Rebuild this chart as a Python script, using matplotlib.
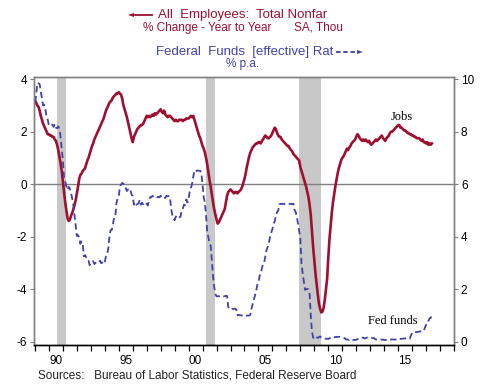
import numpy as np
import matplotlib.pyplot as plt
# nonfarm payrolls vs fed funds, 1989 - mid 2017

start_year = 1989

# all employees: total nonfarm, % change year to year (monthly, Jan 1989 on)
jobs = [
    3.2, 3.1, 3.0, 2.95, 2.8, 2.6, 2.45, 2.3, 2.2, 2.1, 2.0, 1.9,
    1.9, 1.85, 1.85, 1.8, 1.8, 1.7, 1.65, 1.5, 1.3, 1.05, 0.8, 0.5,
    0.1, -0.3, -0.7, -1.0, -1.3, -1.4, -1.35, -1.2, -1.1, -0.95, -0.8, -0.6,
    -0.35, -0.1, 0.2, 0.35, 0.4, 0.5, 0.55, 0.6, 0.75, 0.9, 1.0, 1.15,
    1.3, 1.45, 1.55, 1.7, 1.8, 1.9, 2.0, 2.1, 2.2, 2.3, 2.4, 2.5,
    2.65, 2.8, 2.9, 3.0, 3.1, 3.15, 3.2, 3.3, 3.35, 3.4, 3.45, 3.45,
    3.5, 3.45, 3.4, 3.25, 3.0, 2.85, 2.7, 2.55, 2.35, 2.15, 1.95, 1.75,
    1.6, 1.8, 1.9, 2.0, 2.1, 2.15, 2.2, 2.25, 2.25, 2.3, 2.4, 2.5,
    2.6, 2.55, 2.6, 2.55, 2.6, 2.65, 2.6, 2.7, 2.65, 2.7, 2.75, 2.8,
    2.85, 2.75, 2.7, 2.8, 2.65, 2.6, 2.55, 2.6, 2.6, 2.55, 2.5, 2.45,
    2.4, 2.45, 2.4, 2.4, 2.45, 2.45, 2.45, 2.4, 2.45, 2.45, 2.5, 2.5,
    2.5, 2.55, 2.6, 2.55, 2.6, 2.45, 2.3, 2.15, 2.0, 1.85, 1.75, 1.6,
    1.45, 1.35, 1.2, 1.0, 0.75, 0.45, 0.15, -0.1, -0.4, -0.7, -0.95, -1.15,
    -1.35, -1.5, -1.45, -1.35, -1.25, -1.15, -1.05, -0.95, -0.7, -0.45, -0.3, -0.25,
    -0.2, -0.25, -0.3, -0.35, -0.3, -0.3, -0.35, -0.3, -0.25, -0.2, -0.1, 0.05,
    0.2, 0.4, 0.65, 0.85, 1.05, 1.2, 1.3, 1.4, 1.45, 1.5, 1.55, 1.55,
    1.6, 1.6, 1.55, 1.65, 1.7, 1.8, 1.85, 1.8, 1.75, 1.75, 1.8, 1.85,
    1.95, 2.05, 2.15, 2.1, 1.95, 1.85, 1.8, 1.8, 1.7, 1.65, 1.6, 1.55,
    1.5, 1.45, 1.45, 1.35, 1.3, 1.25, 1.15, 1.1, 1.05, 1.0, 0.95, 0.9,
    0.65, 0.5, 0.35, 0.2, 0.05, -0.1, -0.3, -0.5, -0.8, -1.2, -1.8, -2.4,
    -2.9, -3.4, -3.8, -4.2, -4.55, -4.75, -4.88, -4.85, -4.7, -4.4, -4.0, -3.6,
    -2.8, -2.1, -1.6, -1.1, -0.7, -0.4, -0.1, 0.15, 0.4, 0.6, 0.75, 0.9,
    1.0, 1.05, 1.15, 1.25, 1.35, 1.3, 1.4, 1.45, 1.55, 1.6, 1.65, 1.7,
    1.8, 1.9, 1.85, 1.75, 1.7, 1.65, 1.7, 1.65, 1.7, 1.65, 1.6, 1.65,
    1.55, 1.5, 1.55, 1.6, 1.65, 1.7, 1.65, 1.7, 1.75, 1.8, 1.85, 1.75,
    1.7, 1.65, 1.75, 1.8, 1.85, 1.95, 2.0, 2.0, 2.05, 2.1, 2.15, 2.2,
    2.25, 2.25, 2.15, 2.15, 2.1, 2.05, 2.05, 2.0, 1.95, 1.95, 1.9, 1.9,
    1.85, 1.85, 1.8, 1.8, 1.75, 1.75, 1.75, 1.7, 1.65, 1.7, 1.6, 1.6,
    1.55, 1.6, 1.5, 1.55, 1.5, 1.55,
]

# federal funds [effective] rate, % p.a. (monthly, Jan 1989 on)
fed_funds = [
    9.12, 9.36, 9.85, 9.84, 9.81, 9.53, 9.24, 8.99, 9.02, 8.84, 8.55, 8.45,
    8.23, 8.24, 8.28, 8.26, 8.18, 8.29, 8.15, 8.13, 8.20, 8.11, 7.81, 7.31,
    6.91, 6.25, 6.12, 5.91, 5.78, 5.90, 5.82, 5.66, 5.45, 5.21, 4.81, 4.43,
    4.03, 4.06, 3.98, 3.73, 3.82, 3.76, 3.25, 3.30, 3.22, 3.10, 3.09, 2.92,
    3.02, 3.03, 3.07, 2.96, 3.00, 3.04, 3.06, 3.03, 3.09, 2.99, 3.02, 2.96,
    3.05, 3.25, 3.34, 3.56, 4.01, 4.25, 4.26, 4.47, 4.73, 4.76, 5.29, 5.45,
    5.53, 5.92, 5.98, 6.05, 6.01, 6.00, 5.85, 5.74, 5.80, 5.76, 5.80, 5.60,
    5.56, 5.22, 5.31, 5.22, 5.24, 5.27, 5.40, 5.22, 5.30, 5.24, 5.31, 5.29,
    5.25, 5.19, 5.39, 5.51, 5.50, 5.56, 5.52, 5.54, 5.54, 5.50, 5.52, 5.50,
    5.56, 5.51, 5.49, 5.45, 5.49, 5.56, 5.54, 5.55, 5.51, 5.07, 4.83, 4.68,
    4.63, 4.76, 4.81, 4.74, 4.74, 4.76, 4.99, 5.07, 5.22, 5.20, 5.42, 5.30,
    5.45, 5.73, 5.85, 6.02, 6.27, 6.53, 6.54, 6.50, 6.52, 6.51, 6.51, 6.40,
    5.98, 5.49, 5.31, 4.80, 4.21, 3.97, 3.77, 3.65, 3.07, 2.49, 2.09, 1.82,
    1.73, 1.74, 1.73, 1.75, 1.75, 1.75, 1.73, 1.74, 1.75, 1.75, 1.34, 1.24,
    1.24, 1.26, 1.25, 1.26, 1.26, 1.22, 1.01, 1.03, 1.01, 1.01, 1.00, 0.98,
    1.00, 1.01, 1.00, 1.00, 1.00, 1.03, 1.26, 1.43, 1.61, 1.76, 1.93, 2.16,
    2.28, 2.50, 2.63, 2.79, 3.00, 3.04, 3.26, 3.50, 3.62, 3.78, 4.00, 4.16,
    4.29, 4.49, 4.59, 4.79, 4.94, 4.99, 5.24, 5.25, 5.25, 5.25, 5.25, 5.24,
    5.25, 5.26, 5.26, 5.25, 5.25, 5.25, 5.26, 5.02, 4.94, 4.76, 4.49, 4.24,
    3.94, 2.98, 2.61, 2.28, 1.98, 2.00, 2.01, 2.00, 1.81, 0.97, 0.39, 0.16,
    0.15, 0.22, 0.18, 0.15, 0.18, 0.21, 0.16, 0.16, 0.15, 0.12, 0.12, 0.12,
    0.11, 0.13, 0.16, 0.20, 0.20, 0.18, 0.18, 0.19, 0.19, 0.19, 0.19, 0.18,
    0.17, 0.16, 0.14, 0.10, 0.09, 0.09, 0.07, 0.10, 0.08, 0.07, 0.08, 0.07,
    0.08, 0.10, 0.13, 0.14, 0.16, 0.16, 0.16, 0.13, 0.14, 0.16, 0.16, 0.16,
    0.14, 0.15, 0.14, 0.15, 0.11, 0.09, 0.09, 0.08, 0.08, 0.09, 0.08, 0.09,
    0.07, 0.07, 0.08, 0.09, 0.09, 0.10, 0.09, 0.09, 0.09, 0.09, 0.09, 0.12,
    0.11, 0.11, 0.11, 0.12, 0.12, 0.13, 0.13, 0.14, 0.14, 0.12, 0.12, 0.24,
    0.34, 0.38, 0.36, 0.37, 0.37, 0.38, 0.39, 0.40, 0.40, 0.40, 0.41, 0.54,
    0.65, 0.66, 0.79, 0.90, 0.91, 1.04,
]

# NBER recessions (start, end) in decimal years
recessions = [(1990.58, 1991.25), (2001.25, 2001.92), (2007.92, 2009.5)]

left_ticks = [4, 2, 0, -2, -4, -6]
right_ticks = [10, 8, 6, 4, 2, 0]
year_labels = ['90', '95', '00', '05', '10', '15']
label_years = [1990, 1995, 2000, 2005, 2010, 2015]

red = '#9e0f30'
blue = '#4242a8'
grey = '#808080'

t_jobs = start_year + np.arange(len(jobs)) / 12.0
t_ff = start_year + np.arange(len(fed_funds)) / 12.0

fig = plt.figure(figsize=(4.84, 3.87), dpi=100)
ax = fig.add_axes([0.0702, 0.1085, 0.8678, 0.6933])
ax2 = ax.twinx()

for r0, r1 in recessions:
    ax.axvspan(r0, r1, color='#c8c8c8', lw=0, zorder=0)
ax.axhline(0, color=grey, lw=1.0, zorder=1)

ax.plot(t_jobs, jobs, color=red, lw=1.9, zorder=3)
ax2.plot(t_ff, fed_funds, color=blue, lw=1.3, dashes=(3.5, 2.0))

ax.set_xlim(1988.93, 2019.0)
ax.set_ylim(-6.12, 4.09)
ax2.set_ylim(-6.12 + 6, 4.09 + 6)

ax.set_yticks(left_ticks)
ax.set_yticklabels([str(v) for v in left_ticks])
ax2.set_yticks(right_ticks)
ax2.set_yticklabels([str(v) for v in right_ticks])

ax.set_xticks([y + 0.5 for y in label_years])
ax.set_xticklabels(year_labels)
ax.set_xticks(np.arange(1989, 2020), minor=True)
ax.tick_params(axis='x', which='major', length=0, pad=7, labelsize=8.5)
ax.tick_params(axis='x', which='minor', length=4, width=0.9, color='black', direction='out')
ax.tick_params(axis='y', length=3, color=grey, labelsize=8.5, pad=2)
ax2.tick_params(axis='y', length=3, color=grey, labelsize=8.5, pad=2)

for a in (ax, ax2):
    for side in ('left', 'right', 'top'):
        a.spines[side].set_color(grey)
        a.spines[side].set_linewidth(1.0)
    a.spines['bottom'].set_color('black')
    a.spines['bottom'].set_linewidth(1.0)
    for lbl in a.get_yticklabels() + a.get_xticklabels():
        lbl.set_fontfamily('Liberation Sans')

ax.text(2015.25, 2.55, 'Jobs', family='Liberation Serif', fontsize=9, ha='center', va='center')
ax2.text(2014.6, 0.8, 'Fed funds', family='Liberation Serif', fontsize=9, ha='center', va='center')

# header texts
fig.text(158 / 484, 1 - 15 / 387, 'All  Employees:  Total Nonfar', color=red, fontsize=9.5,
         family='Liberation Sans', ha='left', va='center')
fig.text(143 / 484, 1 - 28 / 387, '% Change - Year to Year       SA, Thou', color=red, fontsize=8.5,
         family='Liberation Sans', ha='left', va='center')
fig.text(156 / 484, 1 - 52 / 387, 'Federal  Funds  [effective] Rat', color=blue, fontsize=9.5,
         family='Liberation Sans', ha='left', va='center')
fig.text(243 / 484, 1 - 64 / 387, '% p.a.', color=blue, fontsize=8.5,
         family='Liberation Sans', ha='center', va='center')

# arrows next to the header lines
fig.add_artist(plt.Line2D([132 / 484, 152 / 484], [1 - 15 / 387] * 2, color=red, lw=1.3))
fig.add_artist(plt.Polygon([[128 / 484, 1 - 15 / 387], [134 / 484, 1 - 13 / 387],
                            [134 / 484, 1 - 17 / 387]], color=red, lw=0))
fig.add_artist(plt.Line2D([336 / 484, 358 / 484], [1 - 52 / 387] * 2, color=blue, lw=1.3,
                          dashes=(2.5, 1.5)))
fig.add_artist(plt.Polygon([[363 / 484, 1 - 52 / 387], [357 / 484, 1 - 50 / 387],
                            [357 / 484, 1 - 54 / 387]], color=blue, lw=0))

fig.text(38 / 484, 1 - 375 / 387, 'Sources:   Bureau of Labor Statistics, Federal Reserve Board',
         fontsize=8.5, family='Liberation Sans', color='#222222', ha='left', va='center')

fig.savefig('out.png', dpi=100)
